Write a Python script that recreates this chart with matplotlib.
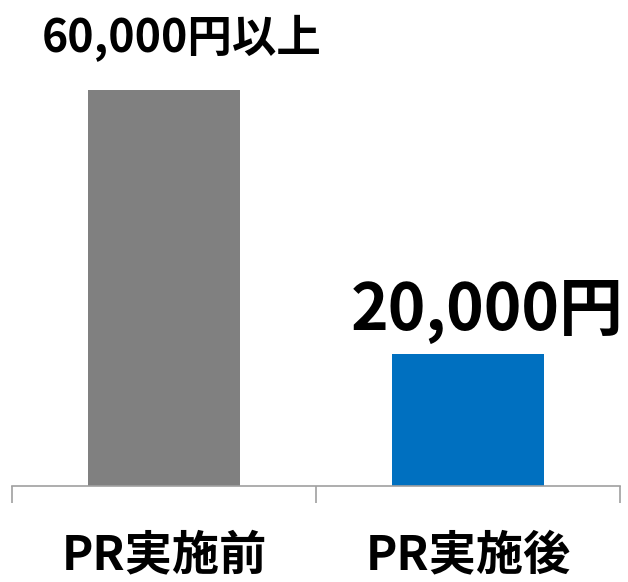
import matplotlib
matplotlib.use('Agg')
import matplotlib.pyplot as plt

plt.rcParams['font.family'] = ['Noto Sans CJK JP', 'DejaVu Sans']

categories = ['PR実施前', 'PR実施後']
values = [60000, 20000]
value_labels = ['60,000円以上', '20,000円']
colors = ['#808080', '#0070C0']

fig = plt.figure(figsize=(6.28, 5.82), dpi=100)
ax = fig.add_axes([12 / 628, 1 - 486 / 582, 608 / 628, 396 / 582])

x = list(range(len(categories)))
ax.bar(x, values, width=0.5, color=colors)
ax.set_xlim(-0.5, 1.5)
ax.set_ylim(0, 60000)

for s in ['top', 'right', 'left']:
    ax.spines[s].set_visible(False)
ax.spines['bottom'].set_color('#A0A0A0')
ax.spines['bottom'].set_linewidth(1.2)
ax.set_yticks([])
ax.set_xticks([-0.5, 0.5, 1.5])
ax.set_xticklabels([])
ax.tick_params(axis='x', length=12, width=1.2, color='#A0A0A0', direction='out')

# 値ラベル
ax.annotate(value_labels[0], xy=(x[0], values[0]), xytext=(13, 37),
            textcoords='offset points', ha='center', va='center',
            fontsize=32, fontweight='bold', annotation_clip=False)
ax.annotate(value_labels[1], xy=(x[1], values[1]), xytext=(14, 31),
            textcoords='offset points', ha='center', va='center',
            fontsize=46, fontweight='bold', annotation_clip=False)

# カテゴリラベル
for i, c in zip(x, categories):
    ax.annotate(c, xy=(i, 0), xytext=(0, -50), textcoords='offset points',
                ha='center', va='center', fontsize=34, fontweight='bold',
                annotation_clip=False)

fig.savefig('out.png', dpi=100, facecolor='white')
